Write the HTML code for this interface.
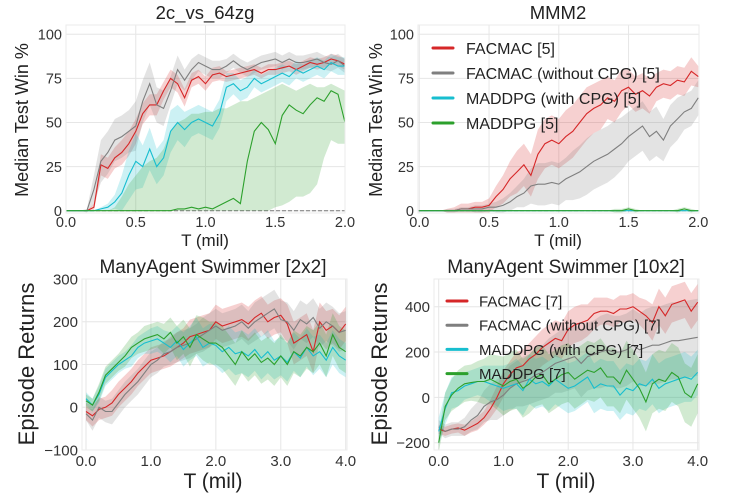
<!DOCTYPE html>
<html><head><meta charset="utf-8">
<style>
body{margin:0;background:#fff;}
svg{display:block;font-family:"Liberation Sans","DejaVu Sans",sans-serif;}
</style></head>
<body>
<svg id="fig" width="732" height="500" viewBox="0 0 732 500" xmlns="http://www.w3.org/2000/svg"></svg>
<script>
// ---------- shared time axes ----------
const tTop = [0,0.05,0.1,0.15,0.2,0.25,0.3,0.35,0.4,0.45,0.5,0.55,0.6,0.65,0.7,0.75,0.8,0.85,0.9,0.95,1.0,1.05,1.1,1.15,1.2,1.25,1.3,1.35,1.4,1.45,1.5,1.55,1.6,1.65,1.7,1.75,1.8,1.85,1.9,1.95,2.0];
const tBot = [0,0.1,0.2,0.3,0.4,0.5,0.6,0.7,0.8,0.9,1.0,1.1,1.2,1.3,1.4,1.5,1.6,1.7,1.8,1.9,2.0,2.1,2.2,2.3,2.4,2.5,2.6,2.7,2.8,2.9,3.0,3.1,3.2,3.3,3.4,3.5,3.6,3.7,3.8,3.9,4.0];

// ---------- panel 1: 2c_vs_64zg ----------
const p1Red = [0,0,0,0,2,26,24,30,33,38,45,55,60,60,68,75,72,64,74,76,72,77,78,76,77,78,79,80,78,80,80,81,82,80,82,84,83,84,86,85,83];
const p1RedSpread = [0,0,0,0,2,6,6,6,7,7,7,6,6,6,5,5,5,5,4,4,4,4,4,3,3,3,3,3,3,3,3,3,3,3,3,3,3,3,3,3,3];
const p1Gray = [0,0,0,0,12,28,33,40,42,45,48,62,72,60,58,68,80,74,80,84,82,80,80,82,85,82,80,82,84,85,86,84,86,84,84,85,86,84,83,85,82];
const p1GraySpread = [0,0,0,1,8,12,12,12,12,12,14,12,12,10,10,8,8,6,6,5,5,5,5,4,4,4,4,4,4,4,4,4,4,4,4,4,4,4,4,4,4];
const p1Cyan = [0,0,0,0,0,1,2,5,10,20,28,25,35,25,30,45,50,46,50,52,50,48,55,70,72,68,70,75,72,74,76,78,76,80,78,80,82,80,84,82,82];
const p1CyanSpread = [0,0,0,0,0,1,2,4,10,14,16,12,12,10,10,12,10,10,8,8,8,8,8,8,6,6,6,5,5,5,5,5,5,5,5,5,5,5,5,5,5];
const p1Green = [0,0,0,0,0,0,0,0,0,0,0,0,0,0,0,0,1,1,2,1,2,1,3,5,7,4,28,45,50,46,38,54,60,57,55,60,64,62,68,66,50];
const p1GreenLo = [0,0,0,0,0,0,0,0,0,0,0,0,0,0,0,0,0,0,0,0,0,0,0,0,0,0,0,0,0,0,2,3,5,8,8,10,15,30,40,38,38];
const p1GreenHi = [0,0,0,0,0,0,0,2,8,15,20,25,28,30,35,45,50,52,55,55,56,56,58,58,60,62,62,64,66,68,70,72,70,68,70,72,70,70,72,70,68];

// ---------- panel 2: MMM2 ----------
const p2Red = [0,0,0,0,0,0,1,1,2,2,3,8,12,18,22,26,20,32,38,40,38,42,45,50,55,58,60,64,62,68,70,66,68,65,70,72,71,74,73,79,76];
const p2RedSpread = [0,0,0,0,1,2,3,3,3,3,4,6,8,10,12,12,12,14,14,14,14,15,15,15,15,14,14,12,12,12,10,10,10,10,8,8,8,8,8,8,6];
const p2Gray = [0,0,0,0,0,0,1,1,1,1,2,2,3,5,8,10,14,15,15,16,15,18,20,22,25,28,30,32,35,38,42,45,48,42,45,40,48,52,56,58,64];
const p2GraySpread = [0,0,0,0,1,1,1,1,2,2,2,3,4,5,6,8,10,12,12,12,12,12,14,15,16,16,16,16,16,15,14,14,14,14,14,12,12,12,10,10,10];
const p2Cyan = [0,0,0,0,0,0,0,0,0,0,0,0,0,0,0,0,0,0,0,0,0,0,0,0,0,0,0,0,0,0,0,0,0,0,0,0,0,0,0,0,0];
const p2CyanSpread = [0,0,0,0,0,0,0,0,0,0,0,0,0,0,0,0,0,0,0,0,0,0,0,0,0,0,0,0,0,0,0,0,0,0,0,0,0,0,0,0,0];
const p2Green = [0,0,0,0,0,0,0,0,0,0,0,0,0,0,0,0,0,0,0,0,0,0,0,0,0,0,0,0,0,0,1,0,0,0,0,0,0,0,1,0,0];
const p2GreenSpread = [0,0,0,0,0,0,0,0,0,0,0,0,0,0,0,0,0,0,0,0,0,0,0,0,0,0,0,0,1,1,1,1,0,0,0,0,0,1,1,1,0];

// ---------- panel 3: ManyAgent Swimmer [2x2] ----------
const p3Red = [-10,-20,-5,0,10,30,45,60,80,95,110,115,120,130,140,150,165,170,175,180,200,190,195,200,205,195,210,220,200,210,215,195,150,160,170,130,200,180,190,175,195];
const p3RedSpread = [20,25,25,25,30,30,30,30,30,30,30,30,30,35,35,35,40,40,40,40,40,40,40,40,40,40,40,40,40,40,40,45,50,50,50,50,45,45,40,40,40];
const p3Gray = [-15,-30,0,-10,-10,10,30,45,60,80,100,110,125,130,140,145,150,160,170,180,190,180,185,190,200,185,200,210,220,230,205,200,180,205,195,210,185,200,190,175,180];
const p3GraySpread = [15,25,25,25,30,30,30,30,30,30,30,30,30,30,35,35,35,35,40,40,40,40,40,40,40,40,45,45,45,45,45,45,45,45,45,45,45,45,45,45,45];
const p3Cyan = [20,5,30,70,85,100,110,120,140,150,155,160,150,140,155,135,150,165,140,150,145,130,140,125,130,120,135,115,130,110,120,105,130,115,140,120,130,110,140,120,110];
const p3CyanSpread = [15,15,20,20,20,20,20,25,25,25,30,30,30,35,35,40,40,45,45,45,50,50,50,50,50,50,50,50,50,45,45,45,45,45,45,45,40,40,40,40,40];
const p3Green = [15,5,35,75,90,105,120,140,150,160,165,170,160,175,150,165,140,170,160,150,150,140,120,100,130,110,125,105,115,100,120,100,130,120,140,130,150,120,170,140,130];
const p3GreenSpread = [15,15,20,20,20,20,25,25,25,30,30,30,35,35,40,40,45,45,50,50,50,50,50,50,50,50,50,50,50,50,50,50,50,50,50,50,50,50,50,50,50];

// ---------- panel 4: ManyAgent Swimmer [10x2] ----------
const p4Red = [-140,-150,-140,-135,-145,-130,-115,-90,-50,0,60,100,130,140,170,190,220,240,260,250,300,320,330,340,370,380,380,370,390,390,400,380,360,330,400,360,410,420,430,380,420];
const p4RedSpread = [20,20,20,20,25,25,30,30,40,50,60,60,70,70,70,80,80,80,80,80,80,80,80,70,70,60,60,60,60,60,60,60,70,80,80,80,80,80,80,80,80];
const p4Gray = [-130,-150,-140,-140,-130,-100,-80,-40,-20,-10,10,40,60,70,80,100,110,130,150,160,170,180,150,180,190,200,210,200,200,210,230,210,220,230,230,240,250,250,255,260,265];
const p4GraySpread = [30,30,30,30,40,50,60,70,80,90,90,100,100,110,110,120,120,130,130,140,140,140,150,150,150,160,160,160,160,160,160,160,170,170,170,170,170,170,170,170,170];
const p4Cyan = [-150,-50,20,30,50,60,70,70,60,50,40,50,60,30,80,60,70,50,80,60,40,50,70,90,40,60,50,50,10,40,30,60,50,80,40,60,70,80,90,80,110];
const p4CyanSpread = [60,70,70,70,60,60,60,70,80,90,100,100,110,110,110,110,110,110,110,110,110,110,110,110,110,110,110,110,110,110,110,110,110,110,110,110,110,110,110,100,100];
const p4Green = [-200,-40,10,40,60,65,70,70,80,65,50,70,80,40,60,90,100,60,80,100,110,80,100,120,110,130,90,90,60,120,80,40,-20,60,80,70,110,90,20,0,60];
const p4GreenSpread = [40,60,70,80,80,80,90,100,110,120,130,130,130,130,130,130,130,130,130,130,130,130,130,130,130,130,130,130,130,130,130,130,130,130,130,130,130,130,130,130,130];

// ---------- tick labels ----------
const topXTicks = [0,0.5,1.0,1.5,2.0];
const topXLabels = ["0.0","0.5","1.0","1.5","2.0"];
const topYTicks = [0,25,50,75,100];
const topYLabels = ["0","25","50","75","100"];
const botXTicks = [0,1,2,3,4];
const botXLabels = ["0.0","1.0","2.0","3.0","4.0"];
const p3YTicks = [-100,0,100,200,300];
const p3YLabels = ["\u2212100","0","100","200","300"];
const p4YTicks = [-200,0,200,400];
const p4YLabels = ["\u2212200","0","200","400"];

const legend2 = ["FACMAC [5]","FACMAC (without CPG) [5]","MADDPG (with CPG) [5]","MADDPG [5]"];
const legend4 = ["FACMAC [7]","FACMAC (without CPG) [7]","MADDPG (with CPG) [7]","MADDPG [7]"];
const COLORS = ["#d62728","#7f7f7f","#17becf","#2ca02c"];

const NS="http://www.w3.org/2000/svg";
const svg=document.getElementById('fig');
function mk(tag,attrs,parent){const e=document.createElementNS(NS,tag);for(const k in attrs)e.setAttribute(k,attrs[k]);(parent||svg).appendChild(e);return e;}

function panel(cfg){
  const g=mk('g',{});
  
  
  const X=v=>cfg.x0+(v-cfg.xmin)*(cfg.x1-cfg.x0)/(cfg.xmax-cfg.xmin);
  const Y=v=>cfg.y0+(v-cfg.ymin)*(cfg.y1-cfg.y0)/(cfg.ymax-cfg.ymin);
  const L=cfg.frame[0],T=cfg.frame[1],R=cfg.frame[2],B=cfg.frame[3];
  const bg=mk('rect',{x:L,y:T,width:R-L,height:B-T,fill:'#fff'},g);
  
  
  cfg.xt.forEach(v=>{const x=X(v);if(x>L+1&&x<R-1)mk('line',{x1:x,x2:x,y1:T,y2:B,stroke:'#e6e6e6','stroke-width':1},g);});
  cfg.yt.forEach(v=>{const y=Y(v);if(y>T+1&&y<B-1)mk('line',{x1:L,x2:R,y1:y,y2:y,stroke:'#e6e6e6','stroke-width':1},g);});
  const cid='clip'+cfg.name;
  const cp=mk('clipPath',{id:cid},g);mk('rect',{x:L,y:T,width:R-L,height:B-T},cp);
  const dg=mk('g',{'clip-path':'url(#'+cid+')'},g);
  if(cfg.dashed){const d=mk('line',{x1:L,x2:R,y1:Y(0),y2:Y(0),stroke:'#777','stroke-width':1,'stroke-dasharray':'4,2'},dg);
    
    }
  const t=cfg.t;
  cfg.series.forEach((s,i)=>{
    const lo=s.lo?s.lo:s.med.map((v,k)=>v-s.spread[k]);
    const hi=s.hi?s.hi:s.med.map((v,k)=>v+s.spread[k]);
    let d='M'+t.map((tv,k)=>X(tv).toFixed(1)+','+Y(hi[k]).toFixed(1)).join('L');
    for(let k=t.length-1;k>=0;k--)d+='L'+X(t[k]).toFixed(1)+','+Y(lo[k]).toFixed(1);
    const p=mk('path',{d:d+'Z',fill:COLORS[i],'fill-opacity':0.22,stroke:'none'},dg);
    
    
  });
  cfg.series.forEach((s,i)=>{
    const pts=t.map((tv,k)=>X(tv).toFixed(1)+','+Y(s.med[k]).toFixed(1)).join(' ');
    const p=mk('polyline',{points:pts,fill:'none',stroke:COLORS[i],'stroke-width':1.1},dg);
    
    
  });
  mk('rect',{x:L,y:T,width:R-L,height:B-T,fill:'none',stroke:'#ebebeb','stroke-width':1},g);
  cfg.xt.forEach((v,i)=>{const e=mk('text',{x:X(v),y:B+cfg.xtOff,'text-anchor':'middle','font-size':cfg.tfs,fill:'#333'},g);e.textContent=cfg.xl[i];
    
    });
  cfg.yt.forEach((v,i)=>{const e=mk('text',{x:L-4,y:Y(v)+cfg.tfs*0.36,'text-anchor':'end','font-size':cfg.tfs,fill:'#333'},g);e.textContent=cfg.yl[i];
    
    });
  const tt=mk('text',{x:cfg.titleX,y:cfg.titleY,'text-anchor':'middle','font-size':cfg.titleFs,fill:'#222'},g);tt.textContent=cfg.title;
  
  
  const xl=mk('text',{x:cfg.xlabX,y:cfg.xlabY,'text-anchor':'middle','font-size':cfg.labFs,fill:'#222'},g);xl.textContent='T (mil)';
  
  
  const yl=mk('text',{x:0,y:0,'text-anchor':'middle','font-size':cfg.ylabFs,fill:'#222',transform:'translate('+cfg.ylabX+','+cfg.ylabY+') rotate(-90)'},g);yl.textContent=cfg.ylab;
  
  
  if(cfg.legend){
    const lg=mk('g',{},g);
    
    
    cfg.legend.forEach((lab,i)=>{
      const y=cfg.legY+i*cfg.legDy;
      const en=mk('g',{},lg);
      
      
      mk('line',{x1:cfg.legX,x2:cfg.legX+20,y1:y,y2:y,stroke:COLORS[i],'stroke-width':3,'stroke-linecap':'round'},en);
      const tx=mk('text',{x:cfg.legTx,y:y+cfg.legFs*0.36,'font-size':cfg.legFs,fill:'#222'},en);tx.textContent=lab;
    });
  }
}

const topMap={xmin:0,xmax:2,ymin:0,ymax:100,y0:210.7,y1:34.3};
panel(Object.assign({name:'panel-2c-vs-64zg',x0:66,x1:345,frame:[66,25,345,213],t:tTop,dashed:true,
  series:[{key:'facmac',med:p1Red,spread:p1RedSpread},{key:'facmac-without-cpg',med:p1Gray,spread:p1GraySpread},{key:'maddpg-with-cpg',med:p1Cyan,spread:p1CyanSpread},{key:'maddpg',med:p1Green,lo:p1GreenLo,hi:p1GreenHi}],
  xt:topXTicks,xl:topXLabels,yt:topYTicks,yl:topYLabels,tfs:14.5,xtOff:14,title:'2c_vs_64zg',titleX:205,titleY:19,titleFs:18.5,
  xlabX:205,xlabY:246,labFs:17,ylab:'Median Test Win %',ylabX:28,ylabY:120,ylabFs:18},topMap));
panel(Object.assign({name:'panel-mmm2',x0:419.3,x1:698.3,frame:[418,25,699,213],t:tTop,dashed:true,
  series:[{key:'facmac',med:p2Red,spread:p2RedSpread},{key:'facmac-without-cpg',med:p2Gray,spread:p2GraySpread},{key:'maddpg-with-cpg',med:p2Cyan,spread:p2CyanSpread},{key:'maddpg',med:p2Green,spread:p2GreenSpread}],
  xt:topXTicks,xl:topXLabels,yt:topYTicks,yl:topYLabels,tfs:14.5,xtOff:14,title:'MMM2',titleX:558,titleY:19,titleFs:18.5,
  xlabX:558,xlabY:246,labFs:17,ylab:'Median Test Win %',ylabX:382,ylabY:120,ylabFs:18,
  legend:legend2,legX:433,legTx:466,legY:48,legDy:25,legFs:16},topMap));
panel({name:'panel-swimmer-2x2',xmin:0,xmax:4,x0:86,x1:345.7,ymin:-100,ymax:300,y0:450,y1:279,frame:[82,279,347,450],t:tBot,
  series:[{key:'facmac',med:p3Red,spread:p3RedSpread},{key:'facmac-without-cpg',med:p3Gray,spread:p3GraySpread},{key:'maddpg-with-cpg',med:p3Cyan,spread:p3CyanSpread},{key:'maddpg',med:p3Green,spread:p3GreenSpread}],
  xt:botXTicks,xl:botXLabels,yt:p3YTicks,yl:p3YLabels,tfs:15,xtOff:16,title:'ManyAgent Swimmer [2x2]',titleX:213,titleY:273,titleFs:19,
  xlabX:213,xlabY:488,labFs:21,ylab:'Episode Returns',ylabX:34,ylabY:364,ylabFs:22});
panel({name:'panel-swimmer-10x2',xmin:0,xmax:4,x0:438.7,x1:697.7,ymin:-200,ymax:400,y0:442.7,y1:306.7,frame:[434,279,699,450],t:tBot,
  series:[{key:'facmac',med:p4Red,spread:p4RedSpread},{key:'facmac-without-cpg',med:p4Gray,spread:p4GraySpread},{key:'maddpg-with-cpg',med:p4Cyan,spread:p4CyanSpread},{key:'maddpg',med:p4Green,spread:p4GreenSpread}],
  xt:botXTicks,xl:botXLabels,yt:p4YTicks,yl:p4YLabels,tfs:15,xtOff:16,title:'ManyAgent Swimmer [10x2]',titleX:566,titleY:273,titleFs:19,
  xlabX:566,xlabY:488,labFs:21,ylab:'Episode Returns',ylabX:387,ylabY:364,ylabFs:22,
  legend:legend4,legX:447,legTx:479,legY:301,legDy:24.2,legFs:15});
</script>
</body></html>
